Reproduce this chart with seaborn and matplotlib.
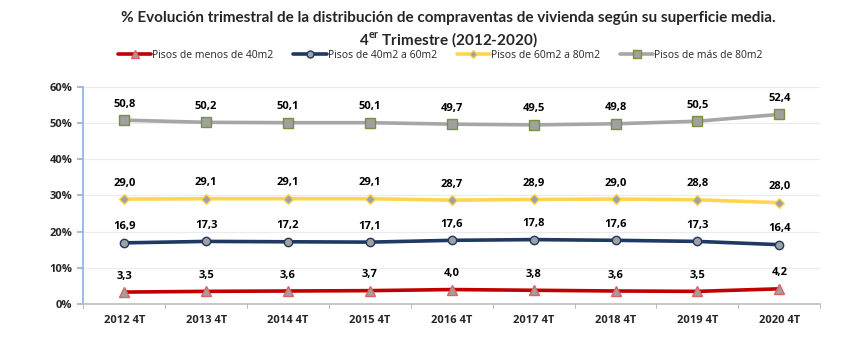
import matplotlib
matplotlib.use("Agg")
import matplotlib.pyplot as plt
import seaborn as sns
import pandas as pd
from matplotlib.lines import Line2D
from matplotlib.ticker import FuncFormatter

categories = ["2012 4T", "2013 4T", "2014 4T", "2015 4T", "2016 4T", "2017 4T", "2018 4T", "2019 4T", "2020 4T"]
menos40 = [3.3, 3.5, 3.6, 3.7, 4.0, 3.8, 3.6, 3.5, 4.2]
de40a60 = [16.9, 17.3, 17.2, 17.1, 17.6, 17.8, 17.6, 17.3, 16.4]
de60a80 = [29.0, 29.1, 29.1, 29.1, 28.7, 28.9, 29.0, 28.8, 28.0]
mas80 = [50.8, 50.2, 50.1, 50.1, 49.7, 49.5, 49.8, 50.5, 52.4]
series_names = ["Pisos de menos de 40m2", "Pisos de 40m2 a 60m2", "Pisos de 60m2 a 80m2", "Pisos de más de 80m2"]
yticks = [0, 10, 20, 30, 40, 50, 60]

sns.set_theme(style="white")
plt.rcParams['font.family'] = ['Open Sans', 'DejaVu Sans']
plt.rcParams['mathtext.fontset'] = 'custom'
plt.rcParams['mathtext.bf'] = 'Lato:bold'
plt.rcParams['mathtext.rm'] = 'Lato:bold'

fig = plt.figure(figsize=(8.5, 3.56), dpi=100)
ax = fig.add_axes([0.098, 0.146, 0.867, 0.61])

styles = [
    dict(color="#C00000", marker="^", mec="#E06060", ms=7),
    dict(color="#1F3864", marker="o", mec="#1F3864", ms=6),
    dict(color="#FFD54F", marker="D", mec="#FFD54F", ms=5),
    dict(color="#A6A6A6", marker="s", mec="#76923C", ms=6.5),
]
all_vals = [menos40, de40a60, de60a80, mas80]
x = list(range(len(categories)))
handles = []
for name, vals, st in zip(series_names, all_vals, styles):
    df = pd.DataFrame({"x": x, "y": vals})
    sns.lineplot(data=df, x="x", y="y", ax=ax, color=st["color"], linewidth=2.6,
                 marker=st["marker"], markersize=st["ms"], markerfacecolor="#A0A0A0",
                 markeredgecolor=st["mec"], markeredgewidth=1.0, zorder=3)
    for xi, v in zip(x, vals):
        ax.annotate(f"{v:.1f}".replace(".", ","), (xi, v), xytext=(0, 11.5),
                    textcoords="offset points", ha="center", va="center",
                    fontsize=8, fontweight="bold", color="#000000")
    handles.append(Line2D([], [], color=st["color"], linewidth=2.6, marker=st["marker"],
                          markersize=st["ms"] - 1, markerfacecolor="#A0A0A0",
                          markeredgecolor=st["mec"]))

ax.set_xlim(-0.5, len(categories) - 0.5)
ax.set_ylim(0, 60)
ax.set_yticks(yticks)
ax.yaxis.set_major_formatter(FuncFormatter(lambda v, p: f"{int(v)}%"))
ax.set_xticks(x)
ax.set_xticklabels(categories)
ax.set_xlabel("")
ax.set_ylabel("")
for lbl in ax.get_xticklabels() + ax.get_yticklabels():
    lbl.set_fontweight("bold")
    lbl.set_fontsize(8)
ax.tick_params(axis="x", length=0, pad=8)
ax.tick_params(axis="y", length=4, color="#8EB4E3", direction="out", pad=4, left=True)
ax.grid(axis="y", color="#EBEBEB", linewidth=0.8)
ax.set_axisbelow(True)
for s in ["top", "right"]:
    ax.spines[s].set_visible(False)
ax.spines["left"].set_color("#8EB4E3")
ax.spines["bottom"].set_color("#BFBFBF")
for i in range(len(categories) + 1):
    ax.plot([i - 0.5, i - 0.5], [0, -1.2], color="#BFBFBF", lw=0.8, clip_on=False)

fig.text(0.528, 0.949, "% Evolución trimestral de la distribución de compraventas de vivienda según su superficie media.",
         ha="center", va="center", fontsize=11, fontweight="bold", family="Lato")
fig.text(0.528, 0.890, r"4$^{\mathbf{er}}$ Trimestre (2012-2020)",
         ha="center", va="center", fontsize=11, fontweight="bold", family="Lato")
fig.legend(handles, series_names, loc="center", bbox_to_anchor=(0.518, 0.845), ncol=4,
           frameon=False, fontsize=7.5, handlelength=3.2, handletextpad=0.1, columnspacing=1.9)

fig.savefig("out.png", dpi=100)
